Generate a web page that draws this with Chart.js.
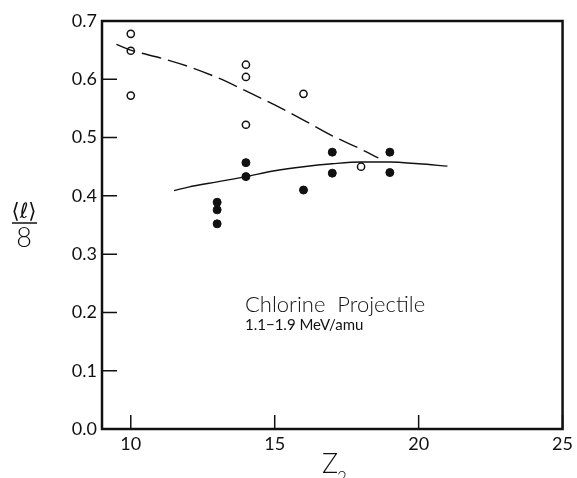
<!DOCTYPE html>
<html>
<head>
<meta charset="utf-8">
<script src="https://cdn.jsdelivr.net/npm/chart.js@4/dist/chart.umd.min.js"></script>
<style>
  html, body { margin: 0; padding: 0; background: #fff; }
  #wrap { width: 577px; height: 478px; position: relative; }
</style>
</head>
<body>
<div id="wrap"><canvas id="chart" width="577" height="478"></canvas></div>
<script>
// open circles (measured points)
const openX = [10, 10, 10, 14, 14, 14, 16, 18];
const openY = [0.678, 0.649, 0.572, 0.625, 0.604, 0.522, 0.575, 0.450];

// filled circles
const filledX = [13, 13, 13, 14, 14, 16, 17, 17, 19, 19];
const filledY = [0.389, 0.376, 0.352, 0.457, 0.433, 0.410, 0.475, 0.439, 0.475, 0.440];

// dashed guide curve
const dashX = [9.5, 10, 11, 12, 13, 14, 15, 16, 17, 18, 18.6];
const dashY = [0.660, 0.650, 0.637, 0.622, 0.603, 0.580, 0.556, 0.530, 0.503, 0.480, 0.465];

// solid guide curve
const solidX = [11.5, 12, 13, 14, 15, 16, 17, 18, 19, 20, 21];
const solidY = [0.409, 0.415, 0.424, 0.433, 0.443, 0.450, 0.455, 0.458, 0.458, 0.455, 0.451];

const xTicks = [10, 15, 20, 25];
const yTicks = [0, 0.1, 0.2, 0.3, 0.4, 0.5, 0.6, 0.7];

const pairs = (xs, ys) => xs.map((x, i) => ({ x, y: ys[i] }));

const ink = '#111';
const tickFont = { family: 'Lato, "DejaVu Sans", sans-serif', size: 18 };

const framePlugin = {
    id: 'frame',
    afterDraw(chart) {
        const { ctx, chartArea: a, scales } = chart;
        ctx.save();
        ctx.strokeStyle = ink;
        ctx.lineWidth = 2.5;
        ctx.strokeRect(a.left, a.top, a.right - a.left, a.bottom - a.top);

        // inward tick marks
        ctx.lineWidth = 1.5;
        ctx.beginPath();
        xTicks.forEach((v) => {
            const px = scales.x.getPixelForValue(v);
            ctx.moveTo(px, a.bottom);
            ctx.lineTo(px, a.bottom - 14);
        });
        yTicks.forEach((v) => {
            const py = scales.y.getPixelForValue(v);
            ctx.moveTo(a.left, py);
            ctx.lineTo(a.left + 15, py);
        });
        ctx.stroke();

        // annotation
        ctx.fillStyle = ink;
        ctx.textBaseline = 'alphabetic';
        ctx.textAlign = 'left';
        ctx.font = '300 22px Lato, sans-serif';
        ctx.fillText('Chlorine  Projectile', 245, 312);
        ctx.font = '15px Lato, sans-serif';
        ctx.fillText('1.1\u22121.9 MeV/amu', 245, 330);

        // x axis title
        ctx.font = '300 27px Lato, sans-serif';
        ctx.fillText('Z', 322, 473);
        ctx.font = '300 17px Lato, sans-serif';
        ctx.fillText('2', 337, 484);

        // y axis title as a fraction
        ctx.textAlign = 'center';
        ctx.font = '21px "DejaVu Sans", sans-serif';
        ctx.fillText('\u27E8\u2113\u27E9', 24, 218);
        ctx.beginPath();
        ctx.lineWidth = 1.5;
        ctx.moveTo(12, 223);
        ctx.lineTo(37, 223);
        ctx.stroke();
        ctx.font = '300 27px Lato, sans-serif';
        ctx.fillText('8', 24, 247);
        ctx.restore();
    },
};

new Chart(document.getElementById('chart'), {
    type: 'scatter',
    data: {
        datasets: [
            {
                type: 'line',
                data: pairs(dashX, dashY),
                borderColor: ink,
                borderWidth: 1.4,
                borderDash: [20, 7],
                pointRadius: 0,
                cubicInterpolationMode: 'monotone',
                fill: false,
            },
            {
                type: 'line',
                data: pairs(solidX, solidY),
                borderColor: ink,
                borderWidth: 1.4,
                pointRadius: 0,
                cubicInterpolationMode: 'monotone',
                fill: false,
            },
            {
                data: pairs(openX, openY),
                pointRadius: 3.6,
                pointBackgroundColor: '#fff',
                pointBorderColor: ink,
                pointBorderWidth: 1.5,
            },
            {
                data: pairs(filledX, filledY),
                pointRadius: 4,
                pointBackgroundColor: ink,
                pointBorderColor: ink,
                pointBorderWidth: 1,
            },
        ],
    },
    options: {
        responsive: false,
        animation: false,
        events: [],
        layout: { padding: { left: 0, right: 11, top: 21, bottom: 0 } },
        plugins: { legend: { display: false }, tooltip: { enabled: false } },
        scales: {
            x: {
                type: 'linear',
                min: 9,
                max: 25,
                afterBuildTicks: (scale) => { scale.ticks = xTicks.map((value) => ({ value })); },
                afterFit: (scale) => { scale.height = 49; },
                grid: { display: false, drawTicks: false },
                border: { display: false },
                ticks: { color: ink, font: tickFont, padding: 4, maxRotation: 0 },
            },
            y: {
                min: 0,
                max: 0.7,
                afterBuildTicks: (scale) => { scale.ticks = yTicks.map((value) => ({ value })); },
                afterFit: (scale) => { scale.width = 102; },
                grid: { display: false, drawTicks: false },
                border: { display: false },
                ticks: { color: ink, font: tickFont, padding: 5, callback: (v) => Number(v).toFixed(1) },
            },
        },
    },
    plugins: [framePlugin],
});
</script>
</body>
</html>
